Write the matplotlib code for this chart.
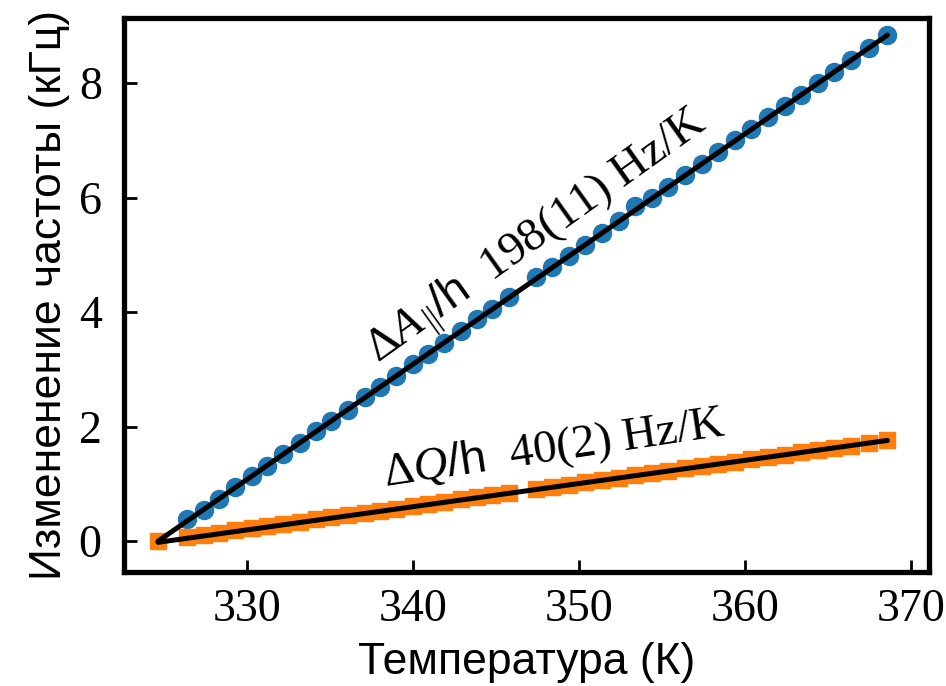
import numpy as np
import matplotlib
matplotlib.use("Agg")
import matplotlib.pyplot as plt

plt.rcParams['mathtext.fontset'] = 'custom'
plt.rcParams['mathtext.rm'] = 'Liberation Serif'
plt.rcParams['mathtext.it'] = 'Liberation Serif:italic'
plt.rcParams['mathtext.sf'] = 'Liberation Sans'

# temperatures (K) and frequency shifts (kHz)
temp = [324.65,
        326.4, 327.4, 328.3, 329.3, 330.3, 331.2, 332.2, 333.2, 334.2, 335.1,
        336.1, 337.1, 338.0, 339.0, 340.0, 340.9, 341.9, 342.9, 343.9, 344.8,
        345.8,
        347.4, 348.4, 349.4, 350.4, 351.4, 352.4, 353.4, 354.4, 355.4, 356.4,
        357.4, 358.4, 359.4, 360.4, 361.4, 362.4, 363.4, 364.4, 365.4, 366.4,
        367.5, 368.6]

dA = [0.38, 0.55, 0.73, 0.94, 1.14, 1.32, 1.52, 1.72, 1.92, 2.10,
      2.30, 2.51, 2.69, 2.89, 3.09, 3.27, 3.47, 3.67, 3.88, 4.06,
      4.26,
      4.62, 4.78, 4.98, 5.18, 5.39, 5.59, 5.85, 5.99, 6.19, 6.39,
      6.59, 6.79, 7.00, 7.20, 7.40, 7.60, 7.80, 8.00, 8.20, 8.40,
      8.62, 8.84]

dQ = [0.00,
      0.07, 0.11, 0.15, 0.19, 0.23, 0.26, 0.30, 0.34, 0.38, 0.42,
      0.46, 0.50, 0.53, 0.57, 0.61, 0.65, 0.69, 0.73, 0.77, 0.81,
      0.85,
      0.91, 0.95, 0.99, 1.03, 1.07, 1.11, 1.15, 1.19, 1.23, 1.27,
      1.31, 1.35, 1.39, 1.43, 1.47, 1.51, 1.55, 1.59, 1.63, 1.67,
      1.71, 1.76]

fit_T = [324.65, 368.6]
fit_A = [0.0, 8.84]
fit_Q = [-0.02, 1.76]

fig = plt.figure(figsize=(9.46, 6.86), dpi=100)
ax = fig.add_axes([0.131, 0.166, 0.851, 0.808])

ax.plot(temp[1:], dA, 'o', color='#1f77b4', ms=13, zorder=2)
ax.plot(temp, dQ, 's', color='#ff7f0e', ms=12, zorder=2)
ax.plot(fit_T, fit_A, '-', color='k', lw=3.6, solid_capstyle='round', zorder=3)
ax.plot(fit_T, fit_Q, '-', color='k', lw=3.6, solid_capstyle='round', zorder=3)

ax.text(357, 310, r'$\Delta A_{\,||}\mathsf{/h}$  198(11) Hz/K',
        transform=None, rotation=35.5, fontsize=34, family='Liberation Serif',
        ha='left', va='bottom')
ax.text(380, 188, r'$\Delta Q\mathsf{/h}$  40(2) Hz/K',
        transform=None, rotation=8.5, fontsize=34, family='Liberation Serif',
        ha='left', va='bottom')

ax.set_xlim(322.6, 371.1)
ax.set_ylim(-0.54, 9.14)
ax.set_xticks([330, 340, 350, 360, 370])
ax.set_yticks([0, 2, 4, 6, 8])

for s in ax.spines.values():
    s.set_linewidth(3.8)
ax.tick_params(direction='in', length=9, width=2, labelsize=33)
ax.tick_params(axis='x', pad=12)
ax.tick_params(axis='y', pad=16)
for lab in ax.get_xticklabels() + ax.get_yticklabels():
    lab.set_family('Liberation Serif')

ax.set_xlabel('Температура (К)', fontsize=32, family='Liberation Sans', labelpad=8)
ax.set_ylabel('Измененение частоты (кГц)', fontsize=32, family='Liberation Sans', labelpad=6)

fig.savefig('out.png', dpi=100)
